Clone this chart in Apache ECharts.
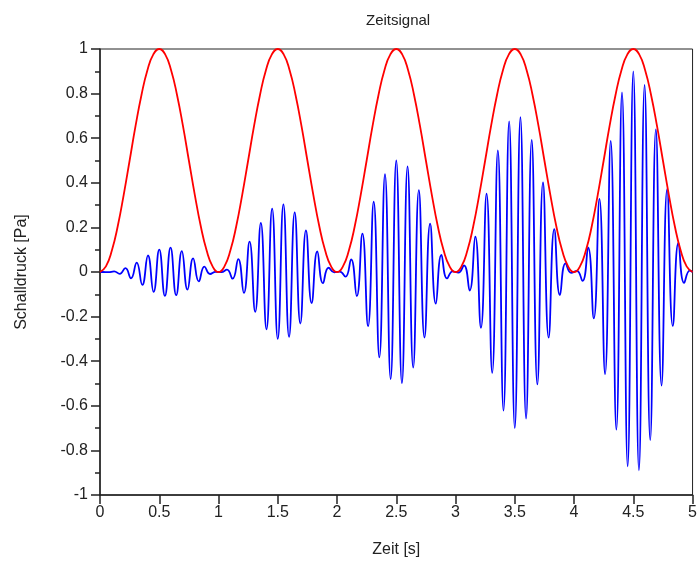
<!DOCTYPE html>
<html lang="de">
<head>
  <meta charset="UTF-8">
  <title>Zeitsignal</title>
  <script src="https://cdn.jsdelivr.net/npm/echarts@6/dist/echarts.min.js"></script>
  <style>
    body { margin: 0; padding: 0; background: #fff; }
    #main { width: 700px; height: 564px; }
  </style>
</head>
<body>
  <div id="main"></div>
  <script>
    var envStep = 0.05;
    var envelope = [
      0, 0.025, 0.096, 0.206, 0.346, 0.5, 0.655, 0.794, 0.905, 0.976,
      1, 0.976, 0.905, 0.794, 0.655, 0.5, 0.346, 0.206, 0.096, 0.025,
      0, 0.025, 0.096, 0.206, 0.346, 0.5, 0.655, 0.794, 0.905, 0.976,
      1, 0.976, 0.905, 0.794, 0.655, 0.5, 0.346, 0.206, 0.096, 0.025,
      0, 0.025, 0.096, 0.206, 0.346, 0.5, 0.655, 0.794, 0.905, 0.976,
      1, 0.976, 0.905, 0.794, 0.655, 0.5, 0.346, 0.206, 0.096, 0.025,
      0, 0.025, 0.096, 0.206, 0.346, 0.5, 0.655, 0.794, 0.905, 0.976,
      1, 0.976, 0.905, 0.794, 0.655, 0.5, 0.346, 0.206, 0.096, 0.025,
      0, 0.025, 0.096, 0.206, 0.346, 0.5, 0.655, 0.794, 0.905, 0.976,
      1, 0.976, 0.905, 0.794, 0.655, 0.5, 0.346, 0.206, 0.096, 0.025,
      0
    ];

    // Schalldruck (blau): Spitzenwerte, Abstand 1/21 s, erste Spitze bei 0.5/21 s
    var peakStep = 1 / 21;
    var peakStart = 0.5 / 21;
    var peaks = [
      0.000, -0.001, 0.003, -0.008, 0.017, -0.028, 0.042, -0.058, 0.074, -0.089,
      0.100, -0.107, 0.109, -0.104, 0.094, -0.079, 0.061, -0.042, 0.024, -0.009, 0.001,
      -0.001, 0.011, -0.030, 0.058, -0.094, 0.136, -0.179, 0.220, -0.257, 0.284,
      -0.300, 0.303, -0.291, 0.267, -0.231, 0.187, -0.139, 0.092, -0.050, 0.019, -0.002,
      0.002, -0.021, 0.057, -0.108, 0.172, -0.243, 0.315, -0.383, 0.439, -0.480,
      0.500, -0.498, 0.474, -0.429, 0.367, -0.294, 0.217, -0.142, 0.077, -0.029, 0.003,
      -0.003, 0.030, -0.083, 0.158, -0.250, 0.351, -0.452, 0.545, -0.622, 0.675,
      -0.700, 0.694, -0.657, 0.592, -0.504, 0.402, -0.294, 0.192, -0.104, 0.039, -0.004,
      0.005, -0.040, 0.110, -0.208, 0.328, -0.458, 0.588, -0.707, 0.805, -0.871,
      0.900, -0.889, 0.839, -0.754, 0.640, -0.509, 0.372, -0.242, 0.130, -0.049, 0.006
    ];

    var xTicks = { min: 0, max: 5, step: 0.5 };
    var yTicks = { min: -1, max: 1, step: 0.2 };

    var envData = envelope.map(function (v, i) { return [+(i * envStep).toFixed(3), v]; });
    var sigData = [[0, 0]];
    peaks.forEach(function (v, k) { sigData.push([peakStart + k * peakStep, v]); });
    sigData.push([5, 0]);

    var chart = echarts.init(document.getElementById('main'));
    var font = 'Liberation Sans';

    chart.setOption({
      animation: false,
      title: {
        text: 'Zeitsignal',
        left: 361,
        top: 8,
        textStyle: { fontFamily: font, fontSize: 15, fontWeight: 'normal', color: '#222' }
      },
      grid: {
        left: 100, right: 7, top: 49, bottom: 69,
        show: true, borderColor: '#222', borderWidth: 1, backgroundColor: '#fff'
      },
      xAxis: {
        type: 'value',
        min: xTicks.min, max: xTicks.max, interval: xTicks.step,
        name: 'Zeit [s]',
        nameLocation: 'middle',
        nameGap: 47,
        nameTextStyle: { fontFamily: font, fontSize: 16, color: '#222' },
        axisLine: { show: true, onZero: false, lineStyle: { color: '#222', width: 1.5 } },
        axisTick: { show: true, length: 9, lineStyle: { color: '#222', width: 1.5 } },
        axisLabel: { fontFamily: font, fontSize: 16, color: '#222', margin: 10 },
        splitLine: { show: false }
      },
      yAxis: {
        type: 'value',
        min: yTicks.min, max: yTicks.max, interval: yTicks.step,
        name: 'Schalldruck [Pa]',
        nameLocation: 'middle',
        nameRotate: 90,
        nameGap: 70,
        nameTextStyle: { fontFamily: font, fontSize: 16, color: '#222' },
        axisLine: { show: true, onZero: false, lineStyle: { color: '#222', width: 1.5 } },
        axisTick: { show: true, length: 9, lineStyle: { color: '#222', width: 1.5 } },
        minorTick: { show: true, splitNumber: 2, length: 5, lineStyle: { color: '#222', width: 1.5 } },
        axisLabel: { fontFamily: font, fontSize: 16, color: '#222', margin: 12 },
        splitLine: { show: false }
      },
      series: [
        {
          name: 'Schalldruck',
          type: 'line',
          data: sigData,
          smooth: 0.5,
          showSymbol: false,
          lineStyle: { color: '#0000ff', width: 1.8 }
        },
        {
          name: 'Hüllkurve',
          type: 'line',
          data: envData,
          smooth: true,
          showSymbol: false,
          lineStyle: { color: '#ff0000', width: 1.8 }
        }
      ]
    });
  </script>
</body>
</html>
